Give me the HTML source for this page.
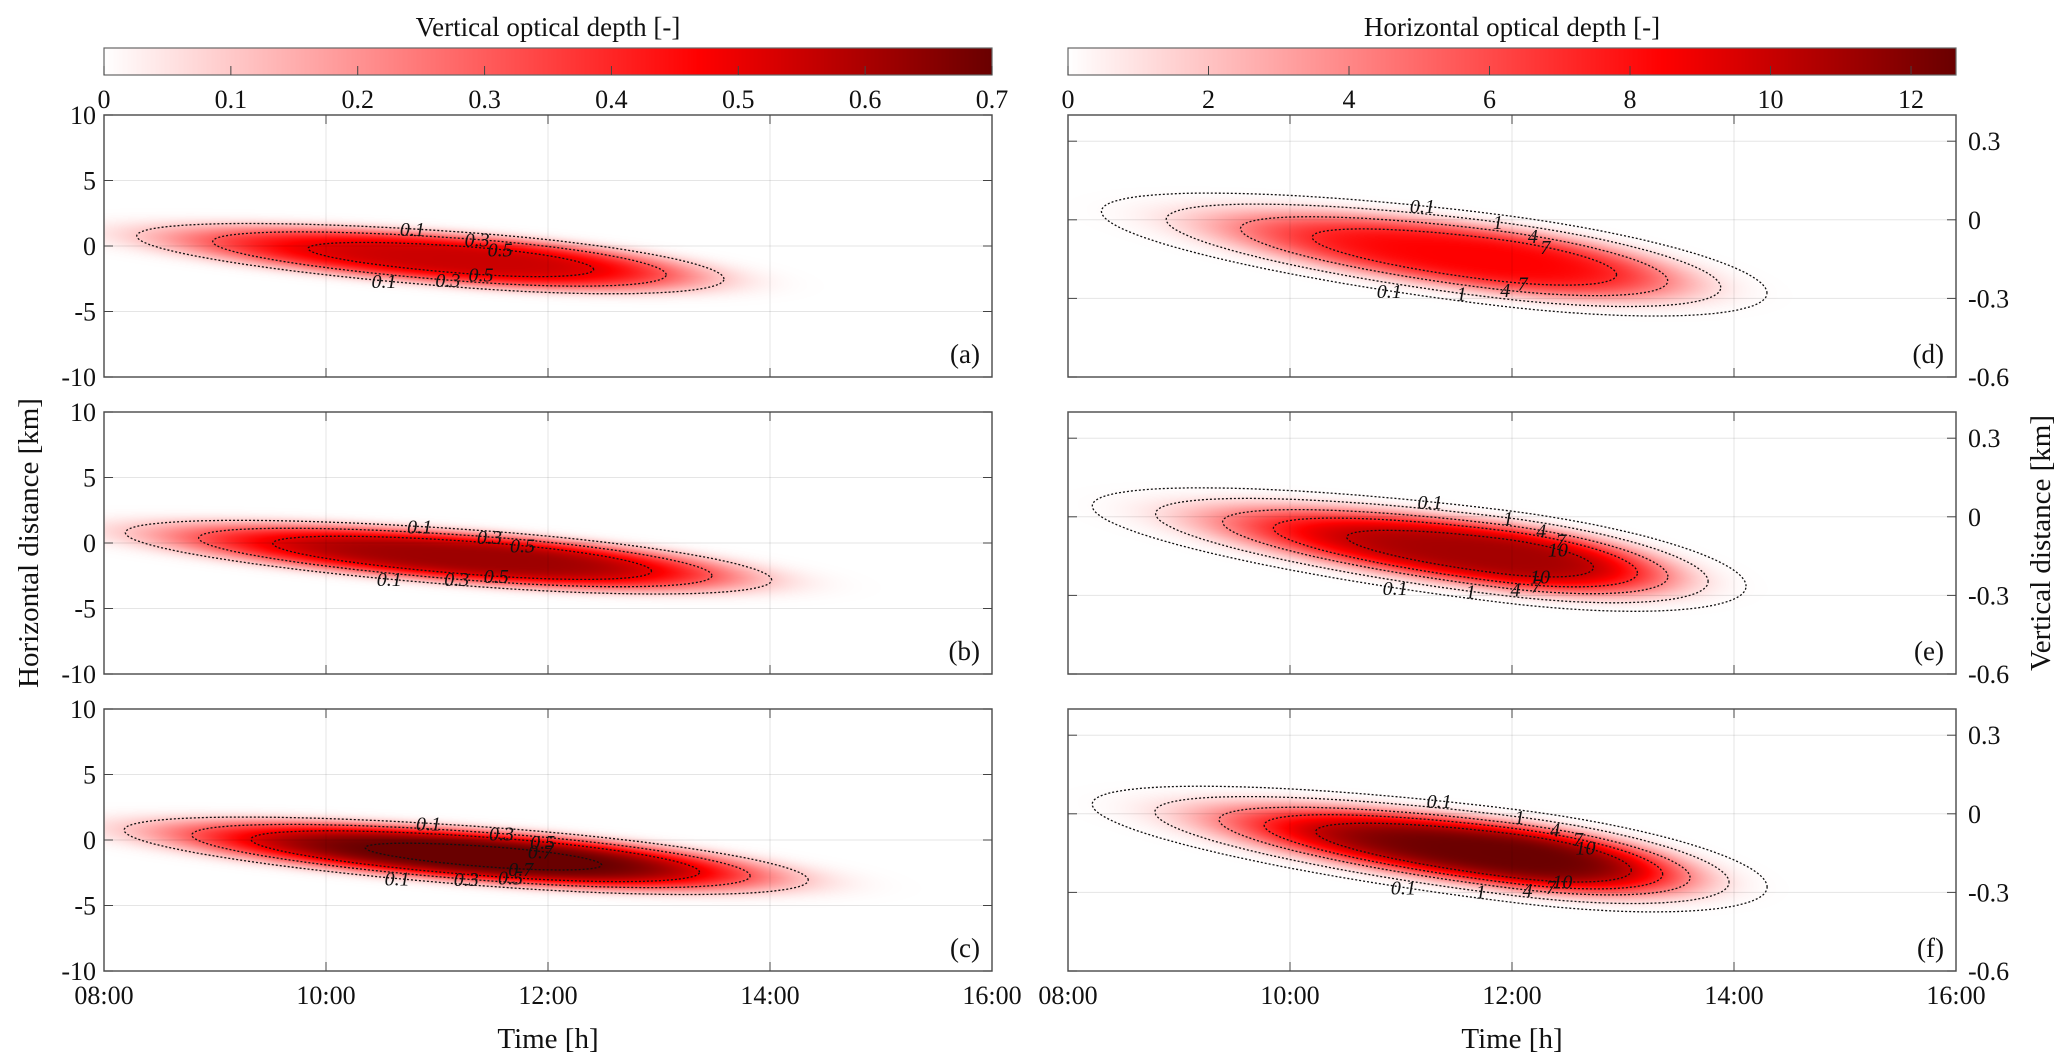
<!DOCTYPE html>
<html><head><meta charset="utf-8"><style>
html,body{margin:0;padding:0;background:#fff;}
#wrap{position:relative;width:2067px;height:1063px;overflow:hidden;}
canvas,svg{position:absolute;left:0;top:0;}
text{font-family:"Liberation Serif",serif;fill:#111;}
</style></head><body>
<div id="wrap">
<canvas id="cv" width="2067" height="1063"></canvas>
<svg id="sv" width="2067" height="1063" xmlns="http://www.w3.org/2000/svg"></svg>
</div>
<script>
// ---- data ----
const timeTicks=[8,10,12,14,16];
const timeTickLabels=['08:00','10:00','12:00','14:00','16:00'];
const leftYTicks=[-10,-5,0,5,10];
const rightYTicks=[-0.6,-0.3,0,0.3];
const leftCbTicks=[0,0.1,0.2,0.3,0.4,0.5,0.6,0.7];
const rightCbTicks=[0,2,4,6,8,10,12];
const panelNames=['(a)','(b)','(c)','(d)','(e)','(f)'];
const peaks=[0.55,0.62,0.72,8.5,11,12.6];
const centersT=[11.3,11.4,11.5,11.8,11.9,12.0];
const centersY=[-1.1,-1.2,-1.3,-0.15,-0.15,-0.16];
const spreadsTLeft=[2.63,2.76,2.8,2.41,2.5,2.55];
const spreadsTRight=[2.0,2.25,2.4,1.72,1.5,1.55];
const spreadsY=[1.85,1.85,1.9,0.12,0.12,0.12];
const slopes=[-0.62,-0.62,-0.62,-0.052,-0.052,-0.052];
const contourLevels=[[0.1,0.3,0.5],[0.1,0.3,0.5],[0.1,0.3,0.5,0.7],[0.1,1,4,7],[0.1,1,4,7,10],[0.1,1,4,7,10]];
// ---- layout ----
const NS='http://www.w3.org/2000/svg';
const sv=document.getElementById('sv');
const ctx=document.getElementById('cv').getContext('2d');
const tops=[115,412,709], PH=262, PW=888, LX=104, RX=1068;
const cbMax=[0.7,12.64];
function mk(tag,attrs,parent){const e=document.createElementNS(NS,tag);for(const k in attrs)e.setAttribute(k,attrs[k]);(parent||sv).appendChild(e);return e;}
function txt(s,x,y,size,anchor,parent){const e=mk('text',{x:x,y:y,'font-size':size,'text-anchor':anchor||'middle'},parent);e.textContent=s;return e;}
function cmap(v){
  v=Math.max(0,Math.min(1,v));
  if(v<0.67){const a=v/0.67;return [255,Math.round(255*(1-a)),Math.round(255*(1-a))];}
  const a=(v-0.67)/0.33;return [Math.round(255-150*a),0,0];
}
function stAt(i,t){return t<centersT[i]?spreadsTLeft[i]:spreadsTRight[i];}
function field(i,t,y){
  const dt=(t-centersT[i])/stAt(i,t);
  const dy=(y-centersY[i]-slopes[i]*(t-centersT[i]))/spreadsY[i];
  const q2=dt*dt+dy*dy;return peaks[i]*Math.exp(-q2*q2);
}
[[LX,'Vertical optical depth [-]',leftCbTicks,0],[RX,'Horizontal optical depth [-]',rightCbTicks,1]].forEach(([x0,title,ticks,k])=>{
  const g=mk('g',{});
  
  
  for(let px=0;px<PW;px++){const c=cmap(px/PW);ctx.fillStyle='rgb('+c+')';ctx.fillRect(x0+px,48,1,27);}
  mk('rect',{x:x0,y:48,width:PW,height:27,fill:'none',stroke:'#666','stroke-width':1.2},g);
  const tt=txt(title,x0+PW/2,36,27,'middle',g);
  
  
  ticks.forEach(v=>{const x=x0+v/cbMax[k]*PW;
    mk('line',{x1:x,x2:x,y1:75,y2:66,stroke:'#444','stroke-width':1},g);
    txt(String(v),x,108,26,'middle',g);});
});
for(let i=0;i<6;i++){
  const right=i>=3, x0=right?RX:LX, y0=tops[i%3];
  const ymin=right?-0.6:-10, ymax=right?0.4:10;
  const sx=t=>x0+(t-8)/8*PW, sy=y=>y0+(ymax-y)/(ymax-ymin)*PH;
  const g=mk('g',{});
  
  
  const img=ctx.createImageData(PW,PH);
  for(let py=0;py<PH;py++){const y=ymax-(py+0.5)/PH*(ymax-ymin);
    for(let px=0;px<PW;px++){const t=8+(px+0.5)/PW*8;
      const c=cmap(field(i,t,y)/cbMax[right?1:0]);const o=(py*PW+px)*4;
      img.data[o]=c[0];img.data[o+1]=c[1];img.data[o+2]=c[2];img.data[o+3]=255;}}
  ctx.putImageData(img,x0,y0);
  timeTicks.slice(1,4).forEach(t=>{mk('line',{x1:sx(t),x2:sx(t),y1:y0,y2:y0+PH,stroke:'#000','stroke-opacity':0.1,'stroke-width':1},g);});
  (right?rightYTicks:leftYTicks).forEach(v=>{if(v>ymin&&v<ymax)mk('line',{x1:x0,x2:x0+PW,y1:sy(v),y2:sy(v),stroke:'#000','stroke-opacity':0.1,'stroke-width':1},g);});
  contourLevels[i].forEach((L,j)=>{
    if(L>=peaks[i])return;
    const r=Math.pow(Math.log(peaks[i]/L),0.25);let d='';
    const pt=a=>{const th=a*Math.PI/180;const c=Math.cos(th);const t=centersT[i]+(c<0?spreadsTLeft[i]:spreadsTRight[i])*r*c;
      const y=centersY[i]+slopes[i]*(t-centersT[i])+spreadsY[i]*r*Math.sin(th);return [t,y];};
    for(let a=0;a<=360;a+=2){const [t,y]=pt(a);d+=(a?'L':'M')+sx(t).toFixed(1)+','+sy(y).toFixed(1);}
    const p=mk('path',{d:d,fill:'none',stroke:'#111','stroke-width':1.3,'stroke-dasharray':'2 2'},g);
    
    
    [100-j*12,255+j*10].forEach(a=>{const [t,y]=pt(a);
      const lt=txt(String(L),sx(t),sy(y)+7,20,'middle',g);lt.setAttribute('font-style','italic');});
  });
  mk('rect',{x:x0,y:y0,width:PW,height:PH,fill:'none',stroke:'#555','stroke-width':1.5},g);
  timeTicks.slice(1,4).forEach(t=>{mk('line',{x1:sx(t),x2:sx(t),y1:y0,y2:y0+9,stroke:'#444'},g);mk('line',{x1:sx(t),x2:sx(t),y1:y0+PH,y2:y0+PH-9,stroke:'#444'},g);});
  (right?rightYTicks:leftYTicks).forEach(v=>{const y=sy(v);mk('line',{x1:x0,x2:x0+9,y1:y,y2:y,stroke:'#444'},g);mk('line',{x1:x0+PW,x2:x0+PW-9,y1:y,y2:y,stroke:'#444'},g);
    if(right)txt(String(v),x0+PW+12,y+9,26,'start',g);else txt(String(v),x0-8,y+9,26,'end',g);});
  txt(panelNames[i],x0+PW-12,y0+PH-14,27,'end',g);
  if(i%3===2){timeTicks.forEach((t,k)=>txt(timeTickLabels[k],sx(t),1004,26,'middle',g));
    const xl=txt('Time [h]',x0+PW/2,1048,29,'middle',g);
    
    }
}
const yl=txt('Horizontal distance [km]',0,0,29,'middle');
yl.setAttribute('transform','translate(38,543) rotate(-90)');


const yr=txt('Vertical distance [km]',0,0,29,'middle');
yr.setAttribute('transform','translate(2050,543) rotate(-90)');


</script>
</body></html>
